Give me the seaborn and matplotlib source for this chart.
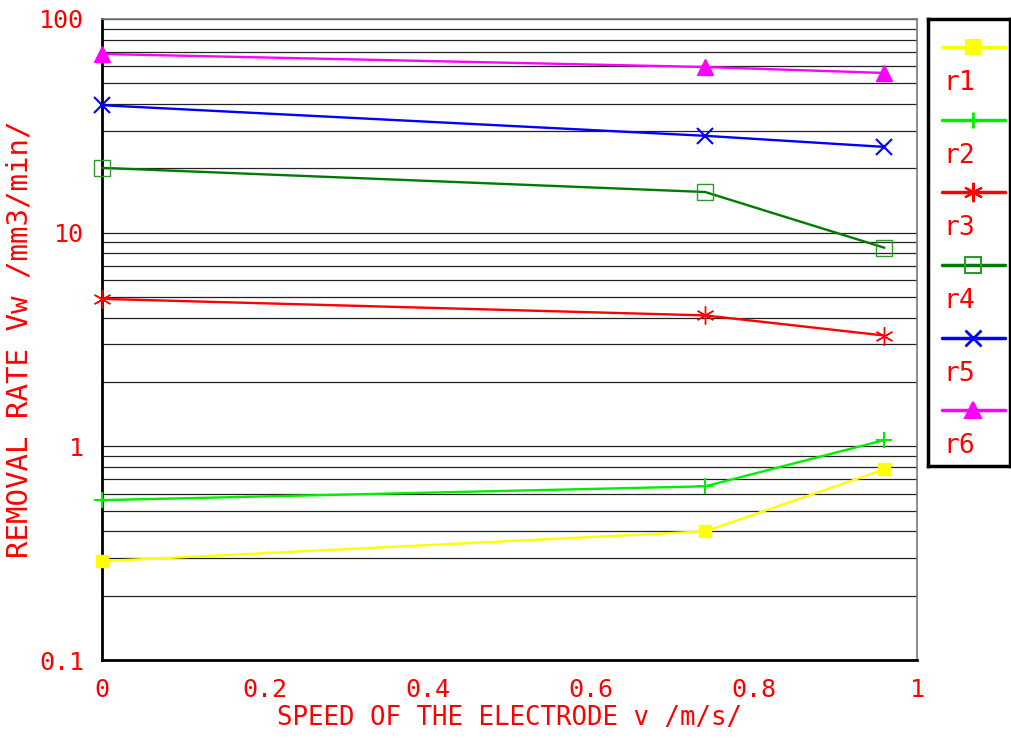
import numpy as np
import pandas as pd
import seaborn as sns
import matplotlib.pyplot as plt
from matplotlib.ticker import FixedLocator, LogLocator, NullFormatter

# Data
speed = [0.0, 0.74, 0.96]
r1 = [0.29, 0.40, 0.78]
r2 = [0.56, 0.65, 1.07]
r3 = [4.9, 4.1, 3.3]
r4 = [20.1, 15.5, 8.5]
r5 = [39.5, 28.4, 25.2]
r6 = [68.6, 59.6, 55.9]
series_names = ['r1', 'r2', 'r3', 'r4', 'r5', 'r6']
x_ticks = [0, 0.2, 0.4, 0.6, 0.8, 1]
x_tick_labels = ['0', '0.2', '0.4', '0.6', '0.8', '1']
y_ticks = [0.1, 1, 10, 100]
y_tick_labels = ['0.1', '1', '10', '100']

# style per series: colour, marker, size, filled
styles = {
    'r1': dict(color='#ffff00', marker='s', ms=9, mfc='#ffff00', mec='#ffff00', mew=1),
    'r2': dict(color='#00ee00', marker='+', ms=11, mfc='none', mec='#00ee00', mew=1.5),
    'r3': dict(color='#ff0000', marker=(6, 2, 0), ms=13, mfc='none', mec='#ff0000', mew=1),
    'r4': dict(color='#007a00', marker='s', ms=11, mfc='none', mec='#2e9a2e', mew=1),
    'r5': dict(color='#0000ff', marker='x', ms=11, mfc='none', mec='#0000ff', mew=1.5),
    'r6': dict(color='#ff00ff', marker='^', ms=11, mfc='#ff00ff', mec='#ff00ff', mew=1),
}

df = pd.DataFrame({'speed': speed * 6,
                   'rate': r1 + r2 + r3 + r4 + r5 + r6,
                   'series': [n for n in series_names for _ in speed]})

sns.set_style("white")
plt.rcParams['font.family'] = ['DejaVu Sans Mono', 'DejaVu Sans']

fig = plt.figure(figsize=(10.11, 7.4), dpi=100)
ax = fig.add_axes([102 / 1011, 1 - 660 / 740, 815 / 1011, 641 / 740])

for name in series_names:
    sub = df[df['series'] == name]
    st = styles[name]
    sns.lineplot(data=sub, x='speed', y='rate', ax=ax, color=st['color'], lw=1.7,
                 marker=st['marker'], markersize=st['ms'], markerfacecolor=st['mfc'],
                 markeredgecolor=st['mec'], markeredgewidth=st['mew'], clip_on=False,
                 zorder=3, legend=False)

ax.set_yscale('log')
ax.set_xlim(0, 1)
ax.set_ylim(0.1, 100)
ax.xaxis.set_major_locator(FixedLocator(x_ticks))
ax.set_xticklabels(x_tick_labels)
ax.yaxis.set_major_locator(FixedLocator(y_ticks))
ax.set_yticklabels(y_tick_labels)
ax.yaxis.set_minor_locator(LogLocator(base=10, subs=np.arange(2, 10)))
ax.yaxis.set_minor_formatter(NullFormatter())
ax.grid(True, axis='y', which='both', color='#222222', lw=0.9)
ax.grid(False, axis='x')
ax.tick_params(axis='both', which='major', direction='out', length=7, width=1.2,
               colors='black', labelcolor='red', labelsize=18, pad=6)
ax.tick_params(axis='y', which='minor', length=0)

for side in ['left', 'bottom']:
    ax.spines[side].set_color('black')
    ax.spines[side].set_linewidth(2)
for side in ['top', 'right']:
    ax.spines[side].set_color('#777777')
    ax.spines[side].set_linewidth(1.2)

ax.set_xlabel('SPEED OF THE ELECTRODE v /m/s/', color='red', fontsize=18.5, labelpad=2)
ax.set_ylabel('REMOVAL RATE Vw /mm3/min/', color='red', fontsize=21, labelpad=4)

# legend box: handle on one row, label under it
lax = fig.add_axes([928 / 1011, 1 - 466 / 740, 82 / 1011, 447 / 740])
lax.set_xlim(928, 1010)
lax.set_ylim(466, 19)
lax.set_xticks([])
lax.set_yticks([])
for sp in lax.spines.values():
    sp.set_color('black')
    sp.set_linewidth(2.5)
line_y = [47, 120, 192, 265, 338, 410]
for name, ly in zip(series_names, line_y):
    st = styles[name]
    lax.plot([942, 1005], [ly, ly], color=st['color'], lw=2.5)
    lax.plot([973], [ly], marker=st['marker'], ms=st['ms'] + 1, mfc=st['mfc'],
             mec=st['mec'], mew=st['mew'] + 0.5, color=st['color'])
    lax.text(943, ly + 36, name, color='red', fontsize=19, va='center', ha='left')

fig.savefig('out.png', dpi=100)
